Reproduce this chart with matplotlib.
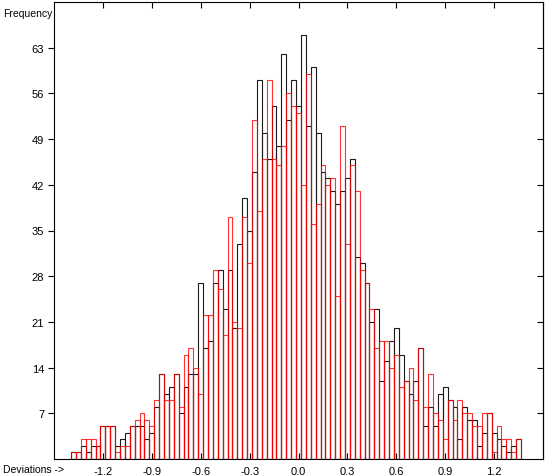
"""
Overlaid frequency histograms of two sets of deviations (black and red).
"""

import numpy as np
import matplotlib
matplotlib.use('Agg')
import matplotlib.pyplot as plt

# bins of width 0.03 centred on multiples of 0.03, from -1.38 to 1.35
bin_width = 0.03
first_center = -1.38

red_counts = [1, 1, 3, 3, 3, 2, 5, 5, 5, 1,
              2, 2, 5, 6, 7, 6, 5, 9, 13, 9,
              9, 13, 8, 16, 17, 14, 10, 22, 22, 29,
              26, 19, 37, 21, 20, 37, 30, 52, 38, 46,
              58, 46, 45, 48, 56, 54, 53, 42, 59, 36,
              39, 45, 42, 43, 25, 51, 33, 45, 41, 29,
              27, 23, 17, 18, 18, 14, 16, 11, 12, 14,
              9, 17, 8, 13, 7, 6, 3, 9, 6, 9,
              7, 7, 5, 5, 7, 7, 1, 5, 3, 3,
              1, 3]

black_counts = [1, 1, 2, 1, 2, 2, 5, 5, 5, 2,
                3, 4, 5, 5, 5, 3, 4, 8, 13, 10,
                11, 13, 7, 11, 13, 13, 27, 17, 18, 27,
                29, 23, 29, 20, 33, 40, 35, 44, 58, 50,
                46, 54, 48, 62, 52, 58, 54, 65, 51, 60,
                50, 44, 43, 41, 39, 41, 43, 46, 31, 30,
                27, 21, 23, 12, 15, 18, 20, 16, 12, 10,
                12, 17, 5, 8, 5, 10, 11, 9, 8, 3,
                8, 6, 6, 2, 4, 7, 4, 3, 2, 1,
                2, 3]

x_ticks = [-1.2, -0.9, -0.6, -0.3, 0.0, 0.3, 0.6, 0.9, 1.2]
x_tick_labels = ['-1.2', '-0.9', '-0.6', '-0.3', '0.0', '0.3', '0.6', '0.9', '1.2']
y_ticks = [7, 14, 21, 28, 35, 42, 49, 56, 63]


def plot_deviations():
    """ Plots both histograms as outlined bars on one axis and saves out.png. """
    plt.rcParams['font.family'] = ['Liberation Sans', 'DejaVu Sans']
    centers = first_center + bin_width * np.arange(len(red_counts))

    fig = plt.figure(figsize=(5.5, 4.77), dpi=100)
    ax = fig.add_axes([54 / 550, 17 / 477, 489 / 550, 457 / 477])

    ax.bar(centers, black_counts, width=bin_width, facecolor='none',
           edgecolor='#1a1a1a', linewidth=0.8)
    ax.bar(centers, red_counts, width=bin_width, facecolor='none',
           edgecolor='red', linewidth=0.8, alpha=0.8)

    ax.set_xlim(-1.5, 1.5)
    ax.set_ylim(0, 70)
    ax.set_xticks(x_ticks)
    ax.set_xticklabels(x_tick_labels)
    ax.set_yticks(y_ticks)
    ax.tick_params(axis='x', direction='in', top=True, length=4, width=0.8,
                   labelsize=8, pad=5)
    ax.tick_params(axis='y', direction='out', length=4, width=0.8,
                   labelsize=8, pad=3)

    right = ax.secondary_yaxis('right')
    right.set_yticks(y_ticks)
    right.tick_params(direction='in', length=4, width=0.8, labelright=False)

    for spine in ax.spines.values():
        spine.set_linewidth(0.8)

    fig.text(3 / 550, 1 - 14 / 477, 'Frequency', fontsize=7.5, va='center')
    fig.text(3 / 550, 1 - 470 / 477, 'Deviations ->', fontsize=7.5,
             va='center')

    fig.savefig('out.png', dpi=100)


if __name__ == '__main__':
    plot_deviations()
